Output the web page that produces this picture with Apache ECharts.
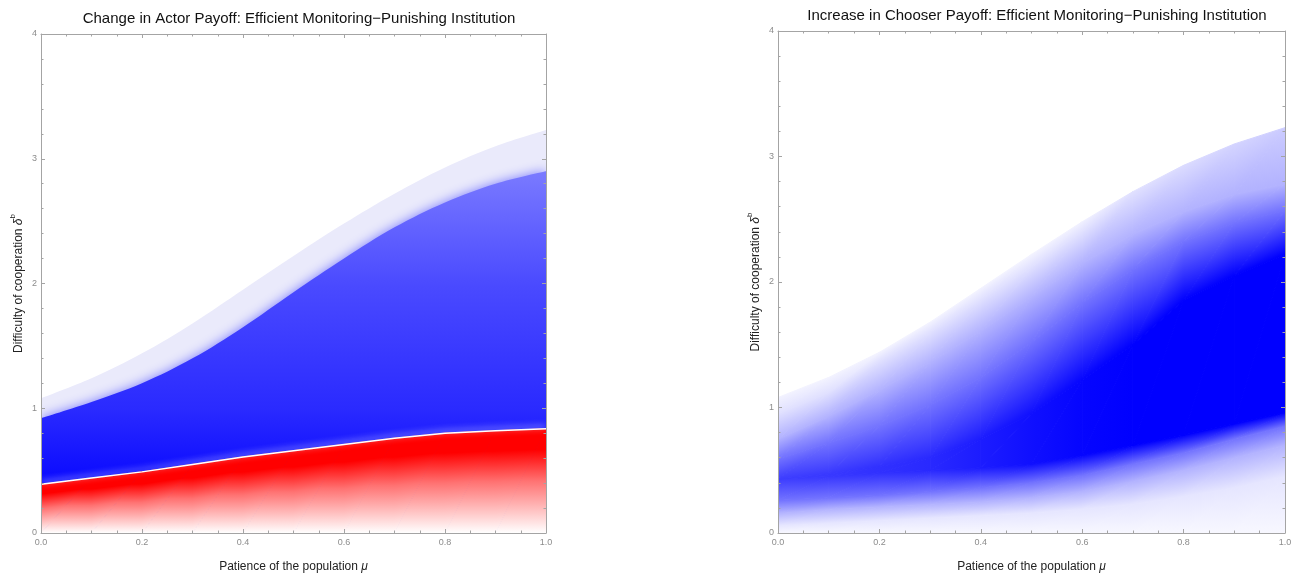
<!DOCTYPE html>
<html lang="en">
<head>
<meta charset="UTF-8">
<title>Efficient Monitoring-Punishing Institution</title>
<style>
    html, body { margin: 0; padding: 0; background: #fff; }
    #main { width: 1297px; height: 578px; }
</style>
</head>
<body>
<div id="main"></div>
<script src="https://cdn.jsdelivr.net/npm/echarts@6/dist/echarts.min.js"></script>
<script>
// patience of the population (x samples)
var mu = [0, 0.1, 0.2, 0.3, 0.4, 0.5, 0.6, 0.7, 0.8, 0.9, 1.0];

// left panel: actor payoff regions (difficulty of cooperation at each mu)
var actorOuter = [1.08, 1.24, 1.44, 1.68, 1.95, 2.22, 2.48, 2.72, 2.93, 3.10, 3.23];
var actorBlue  = [0.92, 1.05, 1.20, 1.40, 1.65, 1.93, 2.20, 2.45, 2.65, 2.80, 2.90];
var actorRed   = [0.39, 0.44, 0.49, 0.55, 0.61, 0.66, 0.71, 0.76, 0.80, 0.82, 0.835];

// right panel: chooser payoff, contour curves of the blue intensity
var chooserFloor    = [0, 0, 0, 0, 0, 0, 0, 0, 0, 0, 0];
var chooserLow10    = [0.06, 0.08, 0.10, 0.12, 0.14, 0.16, 0.19, 0.23, 0.29, 0.36, 0.45];
var chooserLow30    = [0.16, 0.19, 0.21, 0.23, 0.25, 0.28, 0.33, 0.41, 0.50, 0.60, 0.70];
var chooserLow55    = [0.26, 0.28, 0.30, 0.33, 0.36, 0.40, 0.46, 0.55, 0.64, 0.75, 0.85];
var chooserCoreLow  = [0.43, 0.45, 0.48, 0.50, 0.52, 0.55, 0.62, 0.70, 0.78, 0.87, 0.96];
var chooserCoreHigh = [0.43, 0.47, 0.53, 0.60, 0.75, 0.95, 1.22, 1.50, 1.85, 2.05, 2.22];
var chooserHigh55   = [0.59, 0.72, 0.85, 1.02, 1.24, 1.52, 1.83, 2.10, 2.32, 2.47, 2.57];
var chooserHigh30   = [0.75, 0.93, 1.14, 1.36, 1.61, 1.88, 2.15, 2.38, 2.56, 2.70, 2.78];
var chooserHigh12   = [0.95, 1.12, 1.37, 1.60, 1.86, 2.12, 2.40, 2.72, 2.93, 3.10, 3.23];
var chooserOuter    = [1.08, 1.24, 1.44, 1.68, 1.95, 2.22, 2.48, 2.72, 2.93, 3.10, 3.23];
// intensity (0 white .. 1 full blue) along each curve
var chooserPeak        = [0.76, 0.78, 0.81, 0.84, 0.89, 0.94, 0.98, 1.0, 1.0, 1.0, 1.0];
var chooserHigh12Shade = [0.12, 0.12, 0.12, 0.12, 0.12, 0.12, 0.12, 0.12, 0.14, 0.17, 0.20];
var chooserOuterShade  = [0.05, 0.05, 0.05, 0.05, 0.05, 0.05, 0.06, 0.12, 0.14, 0.17, 0.20];

var FONT = 'Liberation Sans, Arial, sans-serif';
var FRAME = '#a4a4a4';

var chooserCurves = [chooserFloor, chooserLow10, chooserLow30, chooserLow55, chooserCoreLow,
    chooserCoreHigh, chooserHigh55, chooserHigh30, chooserHigh12, chooserOuter];
var chooserShades = [0.03, 0.1, 0.3, 0.55, chooserPeak, chooserPeak, 0.55, 0.3,
    chooserHigh12Shade, chooserOuterShade];

var blueStops = [{ offset: 0, color: '#ffffff' }, { offset: 1, color: '#0000ff' }];
var redStops = [
    { offset: 0, color: '#ffffff' },
    { offset: 0.5, color: '#ff7272' },
    { offset: 0.8, color: '#ff0000' },
    { offset: 1, color: '#ff0000' }
];

function stopColor(stops, t) {
    for (var k = 1; k < stops.length; k++) {
        if (t <= stops[k].offset || k === stops.length - 1) {
            var a = stops[k - 1], b = stops[k];
            var f = Math.max(0, Math.min(1, (t - a.offset) / ((b.offset - a.offset) || 1)));
            return echarts.color.lerp(f, [a.color, b.color]);
        }
    }
    return stops[0].color;
}

function valueAt(s, i) {
    return Array.isArray(s) ? s[i] : s;
}

// items: one per band and per mu step
function meshData(curves) {
    var out = [];
    for (var b = 0; b < curves.length - 1; b++) {
        for (var i = 0; i < mu.length - 1; i++) {
            out.push([mu[i], curves[b][i], b, i]);
        }
    }
    return out;
}

// triangle shaded by the plane through its three vertex values
function shadedTriangle(P, V, stops) {
    var d1x = P[1][0] - P[0][0], d1y = P[1][1] - P[0][1];
    var d2x = P[2][0] - P[0][0], d2y = P[2][1] - P[0][1];
    var det = d1x * d2y - d1y * d2x;
    if (Math.abs(det) < 0.05) return null;
    var dv1 = V[1] - V[0], dv2 = V[2] - V[0];
    var a = (dv1 * d2y - dv2 * d1y) / det;
    var b = (d1x * dv2 - d2x * dv1) / det;
    var gg = a * a + b * b;
    var fill;
    if (gg < 1e-10) {
        fill = stopColor(stops, V[0]);
    } else {
        var sx = P[0][0] - V[0] * a / gg, sy = P[0][1] - V[0] * b / gg;
        fill = new echarts.graphic.LinearGradient(sx, sy, sx + a / gg, sy + b / gg, stops, true);
    }
    return {
        type: 'polygon',
        shape: { points: P },
        style: { fill: fill, stroke: fill, lineWidth: 1 }
    };
}

function meshRender(curves, values, stops) {
    return function (params, api) {
        var b = api.value(2), i = api.value(3);
        var lo = curves[b], hi = curves[b + 1];
        var p1 = api.coord([mu[i], lo[i]]);
        var p2 = api.coord([mu[i + 1], lo[i + 1]]);
        var p3 = api.coord([mu[i + 1], hi[i + 1]]);
        var p4 = api.coord([mu[i], hi[i]]);
        var v1 = valueAt(values[b], i), v2 = valueAt(values[b], i + 1);
        var v3 = valueAt(values[b + 1], i + 1), v4 = valueAt(values[b + 1], i);
        var kids = [
            shadedTriangle([p1, p2, p3], [v1, v2, v3], stops),
            shadedTriangle([p1, p3, p4], [v1, v3, v4], stops)
        ].filter(Boolean);
        return { type: 'group', children: kids };
    };
}

function pairs(ys) {
    return mu.map(function (m, i) { return [m, ys[i]]; });
}

function xAxes(grid, top) {
    return {
        gridIndex: grid, type: 'value', min: 0, max: 1, interval: 0.2,
        position: top ? 'top' : 'bottom', z: 10,
        axisLine: { show: true, onZero: false, lineStyle: { color: FRAME, width: 1 } },
        axisTick: { show: true, inside: true, length: 4, lineStyle: { color: FRAME } },
        minorTick: { show: true, splitNumber: 4, length: 2.5, lineStyle: { color: FRAME } },
        splitLine: { show: false },
        axisLabel: {
            show: !top, color: '#8c8c8c', fontSize: 9, fontFamily: FONT, margin: 5,
            formatter: function (v) { return v.toFixed(1); }
        },
        name: top ? '' : '{n|Patience of the population }{g|\u03bc}',
        nameLocation: 'middle', nameGap: 28,
        nameTextStyle: {
            rich: {
                n: { fontSize: 12, color: '#222', fontFamily: FONT },
                g: { fontSize: 12, color: '#222', fontFamily: FONT, fontStyle: 'italic' }
            }
        }
    };
}

function yAxes(grid, right) {
    return {
        gridIndex: grid, type: 'value', min: 0, max: 4, interval: 1,
        position: right ? 'right' : 'left', z: 10,
        axisLine: { show: true, onZero: false, lineStyle: { color: FRAME, width: 1 } },
        axisTick: { show: true, inside: true, length: 4, lineStyle: { color: FRAME } },
        minorTick: { show: true, splitNumber: 5, length: 2.5, lineStyle: { color: FRAME } },
        splitLine: { show: false },
        axisLabel: { show: !right, color: '#8c8c8c', fontSize: 9, fontFamily: FONT, margin: 4 },
        name: right ? '' : '{n|Difficulty of cooperation }{g|\u03b4}{s|b}',
        nameLocation: 'middle', nameGap: 16,
        nameTextStyle: {
            rich: {
                n: { fontSize: 12, color: '#222', fontFamily: FONT, lineHeight: 16, verticalAlign: 'bottom' },
                g: { fontSize: 12, color: '#222', fontFamily: FONT, fontStyle: 'italic', lineHeight: 16, verticalAlign: 'bottom' },
                s: { fontSize: 8, color: '#222', fontFamily: FONT, lineHeight: 10, verticalAlign: 'top' }
            }
        }
    };
}

var myChart = echarts.init(document.getElementById('main'));

var option = {
    animation: false,
    backgroundColor: '#fff',
    title: [{
        text: 'Change in Actor Payoff: Efficient Monitoring\u2212Punishing Institution',
        left: 294, top: 6, textAlign: 'center',
        textStyle: { fontSize: 15, fontWeight: 'normal', color: '#111', fontFamily: FONT }
    }, {
        text: 'Increase in Chooser Payoff: Efficient Monitoring\u2212Punishing Institution',
        left: 1032, top: 3, textAlign: 'center',
        textStyle: { fontSize: 15, fontWeight: 'normal', color: '#111', fontFamily: FONT }
    }],
    grid: [
        { left: 41, top: 34, width: 505, height: 504 },
        { left: 778, top: 31, width: 507, height: 506 }
    ],
    xAxis: [xAxes(0, false), xAxes(0, true), xAxes(1, false), xAxes(1, true)],
    yAxis: [yAxes(0, false), yAxes(0, true), yAxes(1, false), yAxes(1, true)],
    series: [{
        // pale region under the outer boundary
        type: 'line', xAxisIndex: 0, yAxisIndex: 0, z: 1, silent: true,
        data: pairs(actorOuter), smooth: 0.35,
        symbol: 'none', lineStyle: { width: 0 },
        areaStyle: { color: '#eaeafb', opacity: 1 }
    }, {
        // blue region, soft upper edge
        type: 'line', xAxisIndex: 0, yAxisIndex: 0, z: 2, silent: true,
        data: pairs(actorBlue), smooth: 0.35,
        symbol: 'none', lineStyle: { width: 0 },
        areaStyle: {
            opacity: 1,
            shadowBlur: 12, shadowColor: 'rgba(110,110,255,0.9)',
            color: new echarts.graphic.LinearGradient(0, 0, 0, 1, [
                { offset: 0, color: '#7a7aff' },
                { offset: 0.315, color: '#4a4aff' },
                { offset: 0.658, color: '#2a2aff' },
                { offset: 0.83, color: '#0e0eff' },
                { offset: 1, color: '#0000ff' }
            ])
        }
    }, {
        // red region
        type: 'custom', xAxisIndex: 0, yAxisIndex: 0, z: 3, silent: true, clip: true,
        data: meshData([chooserFloor, actorRed]),
        renderItem: meshRender([chooserFloor, actorRed], [0, 1], redStops)
    }, {
        // white edge along the red region
        type: 'line', xAxisIndex: 0, yAxisIndex: 0, z: 4, silent: true,
        data: pairs(actorRed), symbol: 'none',
        lineStyle: { color: '#ffffff', width: 1.5, shadowBlur: 6, shadowOffsetY: -2, shadowColor: 'rgba(235,235,255,1)' }
    }, {
        // chooser intensity field
        type: 'custom', xAxisIndex: 2, yAxisIndex: 2, z: 2, silent: true, clip: true,
        data: meshData(chooserCurves),
        renderItem: meshRender(chooserCurves, chooserShades, blueStops)
    }]
};

myChart.setOption(option);
</script>
</body>
</html>
